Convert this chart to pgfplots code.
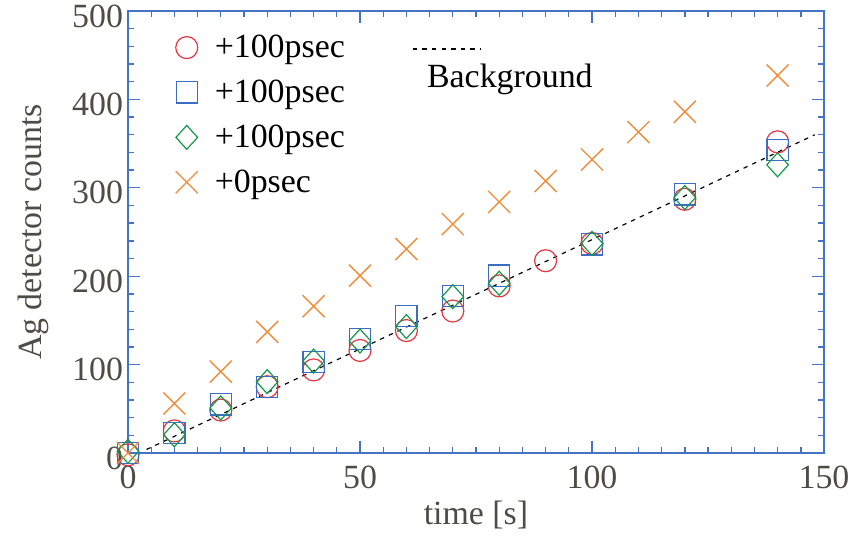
\documentclass[border=0pt]{standalone}
\usepackage{pgfplots}
\pgfplotsset{compat=1.18}
\usepackage{fontspec}
\setmainfont{Liberation Serif}
\definecolor{axblue}{HTML}{4472C4}
\definecolor{cred}{HTML}{E53540}
\definecolor{cblue}{HTML}{3D6DC2}
\definecolor{cgreen}{HTML}{16984A}
\definecolor{corange}{HTML}{F08C3A}
\definecolor{tgray}{HTML}{4E4D45}
\begin{document}
\begin{tikzpicture}
\begin{axis}[
  scale only axis, width=348bp, height=221bp,
  xmin=0, xmax=150, ymin=0, ymax=500,
  axis line style={axblue, line width=0.8pt},
  every tick/.style={axblue, line width=0.7pt},
  tick align=inside,
  major tick length=6bp, minor tick length=3bp,
  xtick={0,50,100,150}, minor x tick num=9,
  ytick={0,100,200,300,400,500}, minor y tick num=4,
  /pgf/number format/assume math mode=true,
  tick label style={font=\fontsize{17}{20}\selectfont, text=tgray},
  xticklabel style={yshift=-3bp},
  yticklabel style={xshift=1bp, yshift=-2.5bp},
  label style={font=\fontsize{17}{20}\selectfont, text=tgray},
  xlabel={time [s]}, ylabel={Ag detector counts},
  xlabel style={yshift=1bp},
  ylabel style={yshift=5bp},
  clip=false,
  legend style={draw=none, fill=none, at={(axis cs:10.2,478)}, anchor=north west,
    font=\fontsize{17}{20}\selectfont, row sep=5.7bp, inner sep=0pt,
    /tikz/every odd column/.append style={column sep=6.5bp}},
  legend cell align=left,
]
\addplot[only marks, mark=o, mark size=5.5bp, cred, line width=0.6pt] coordinates {
(0,-2) (10,25) (20,48.6) (30,75) (40,94) (50,116) (60,138.5) (70,160.6) (80,189) (90,217.5) (100,237) (120,287) (140,352)};
\addlegendentry{+100psec}
\addplot[only marks, mark=square, mark size=5.3bp, cblue, line width=0.6pt] coordinates {
(0,0) (10,22.6) (20,55) (30,74.6) (40,103) (50,129) (60,155) (70,177.6) (80,200.6) (100,236) (120,292.6) (140,343)};
\addlegendentry{+100psec}
\addplot[only marks, mark=diamond, mark size=6bp, mark options={xscale=1.2}, cgreen, line width=0.6pt] coordinates {
(0,2) (10,20.7) (20,51) (30,80.7) (40,104) (50,126.7) (60,143) (70,176.8) (80,192) (100,237) (120,289) (140,326)};
\addlegendentry{+100psec}
\addplot[only marks, mark=x, mark size=7.8bp, corange, line width=0.7pt] coordinates {
(0,0) (10,56) (20,92) (30,137) (40,166) (50,200.6) (60,230.8) (70,259) (80,284) (90,307.7) (100,332) (110,363) (120,386) (140,427)};
\addlegendentry{+0psec}
\addplot[black, line width=0.6pt, dash pattern=on 2.2pt off 2.6pt, forget plot] coordinates {(4,4) (148,360)};
\draw[black, line width=0.6pt, dash pattern=on 2.2pt off 2.6pt] (axis cs:61.4,457) -- (axis cs:76,457);
\node[font=\fontsize{17}{20}\selectfont, anchor=center] at (axis cs:82.3,423) {Background};
\end{axis}
\pgfresetboundingbox
\path[use as bounding box] (-64bp,-41.5bp) rectangle (363.5bp,226.5bp);
\end{tikzpicture}
\end{document}
